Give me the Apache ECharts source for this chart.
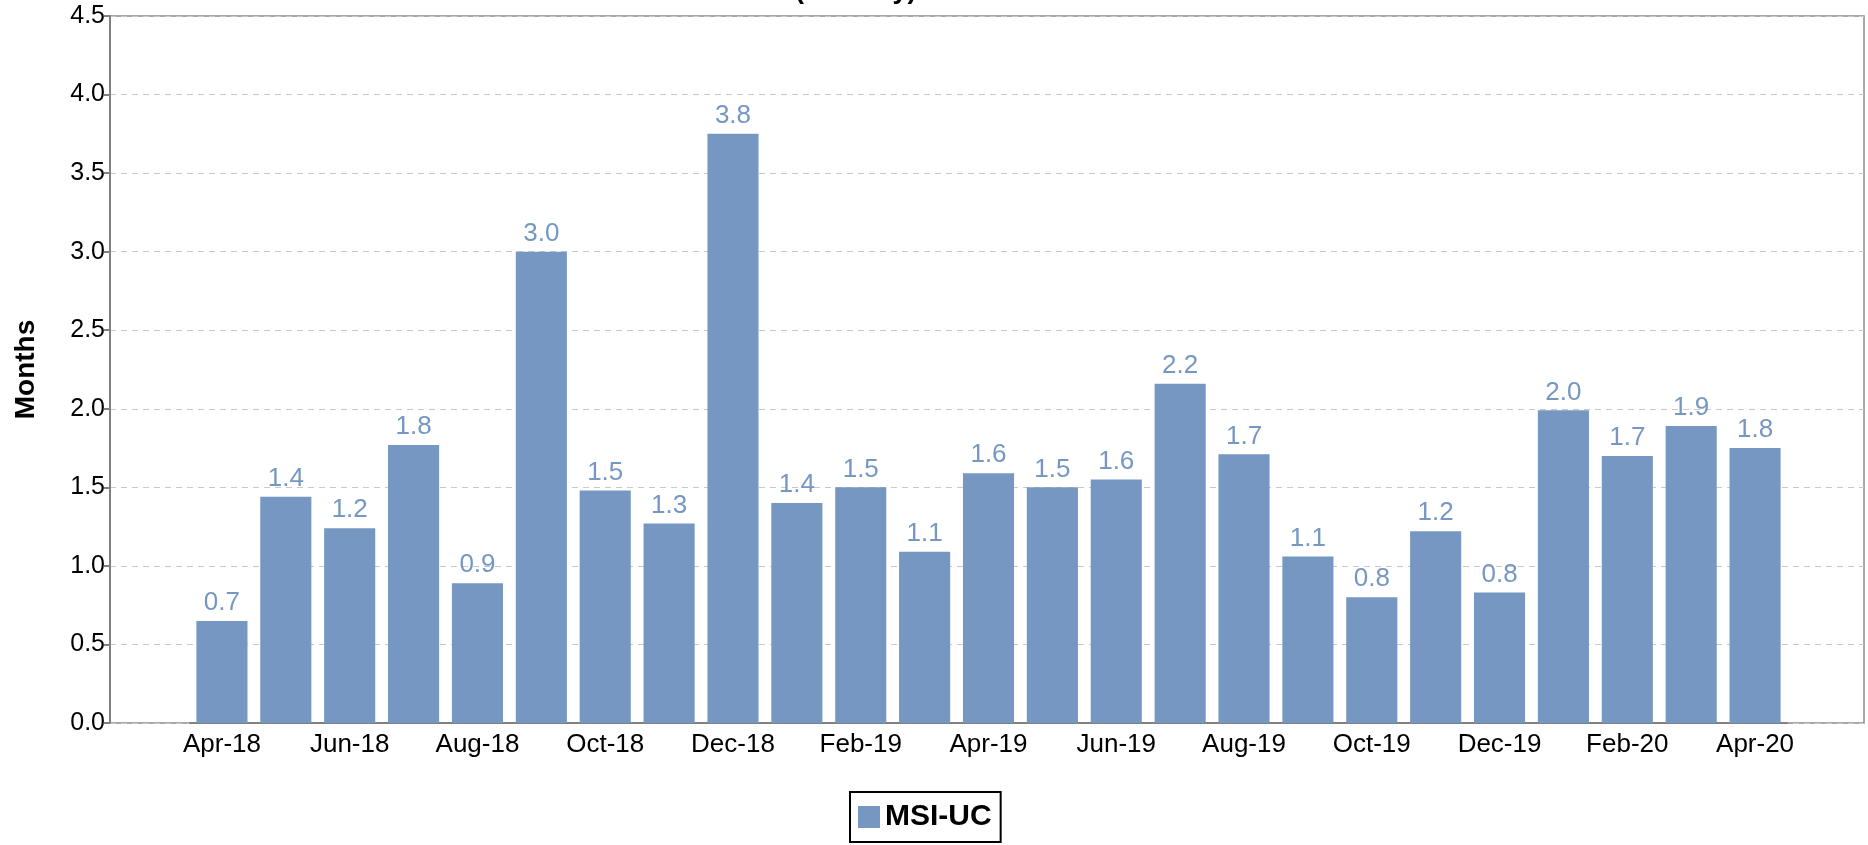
<!DOCTYPE html>
<html>
<head>
<meta charset="utf-8">
<script src="https://cdn.jsdelivr.net/npm/echarts@6/dist/echarts.min.js"></script>
<style>
  html, body { margin: 0; padding: 0; background: #fff; }
  #main { width: 1868px; height: 845px; }
</style>
</head>
<body>
<div id="main"></div>
<script>
// months shown on the x axis (every other one gets a label)
var months = ['Apr-18', 'May-18', 'Jun-18', 'Jul-18', 'Aug-18', 'Sep-18', 'Oct-18', 'Nov-18', 'Dec-18',
  'Jan-19', 'Feb-19', 'Mar-19', 'Apr-19', 'May-19', 'Jun-19', 'Jul-19', 'Aug-19', 'Sep-19', 'Oct-19',
  'Nov-19', 'Dec-19', 'Jan-20', 'Feb-20', 'Mar-20', 'Apr-20']
// MSI-UC, months of supply
var msiUc = [0.65, 1.44, 1.24, 1.77, 0.89, 3.0, 1.48, 1.27, 3.75,
  1.4, 1.5, 1.09, 1.59, 1.5, 1.55, 2.16, 1.71, 1.06, 0.8,
  1.22, 0.83, 1.99, 1.7, 1.89, 1.75]
var seriesName = 'MSI-UC'
var yMin = 0
var yMax = 4.5
var yStep = 0.5

var font = '"Liberation Sans", Arial, sans-serif'
var barColor = '#7597c2'

var myChart = echarts.init(document.getElementById('main'))
var option = {
  animation: false,
  textStyle: { fontFamily: font },
  title: {
    text: '(Monthly)',
    left: 790,
    top: -28,
    textStyle: { fontSize: 27, fontWeight: 'bold', color: '#000', fontFamily: font }
  },
  legend: {
    data: [seriesName],
    left: 850,
    top: 792,
    icon: 'rect',
    itemWidth: 22,
    itemHeight: 22,
    padding: [10, 9, 10, 8],
    borderColor: '#000',
    borderWidth: 2,
    textStyle: { fontSize: 30, fontWeight: 'bold', color: '#000', fontFamily: font }
  },
  // grid 0 = the whole frame with the y axis, grid 1 = where the bars sit
  grid: [
    { left: 110, right: 4, top: 16, bottom: 122, outerBoundsMode: 'none', show: true, borderColor: '#8c8c8c', borderWidth: 1.5 },
    { left: 190, right: 81, top: 16, bottom: 122, outerBoundsMode: 'none' }
  ],
  xAxis: [
    { gridIndex: 0, type: 'value', show: false, min: 0, max: 1 },
    {
      gridIndex: 1,
      type: 'category',
      data: months,
      axisLine: { lineStyle: { color: '#808080', width: 2 } },
      axisTick: {
        alignWithLabel: true,
        interval: function (i) { return i % 2 === 1 },
        length: 40,
        lineStyle: { color: '#b0b0b0', width: 1.5 }
      },
      axisLabel: { interval: 1, fontSize: 26, color: '#000', margin: 9, fontFamily: font }
    }
  ],
  yAxis: [
    {
      gridIndex: 0,
      type: 'value',
      min: yMin,
      max: yMax,
      interval: yStep,
      name: 'Months',
      nameLocation: 'middle',
      nameGap: 70,
      nameTextStyle: { fontSize: 28, fontWeight: 'bold', color: '#000', fontFamily: font },
      axisLine: { show: true, lineStyle: { color: '#808080', width: 2 } },
      axisTick: { show: true, length: 6, lineStyle: { color: '#808080', width: 2 } },
      axisLabel: {
        fontSize: 25,
        color: '#000',
        margin: 5,
        fontFamily: font,
        formatter: function (v) { return v.toFixed(1) }
      },
      splitLine: { lineStyle: { type: [6, 5], color: '#c8c8c8', width: 1 } }
    },
    { gridIndex: 1, type: 'value', min: yMin, max: yMax, show: false }
  ],
  series: [
    {
      name: seriesName,
      type: 'bar',
      xAxisIndex: 1,
      yAxisIndex: 1,
      data: msiUc,
      barCategoryGap: '20%',
      itemStyle: { color: barColor },
      label: {
        show: true,
        position: 'top',
        distance: 5,
        fontSize: 26,
        color: barColor,
        fontFamily: font,
        formatter: function (p) { return p.value.toFixed(1) }
      }
    }
  ]
}
myChart.setOption(option)
</script>
</body>
</html>
